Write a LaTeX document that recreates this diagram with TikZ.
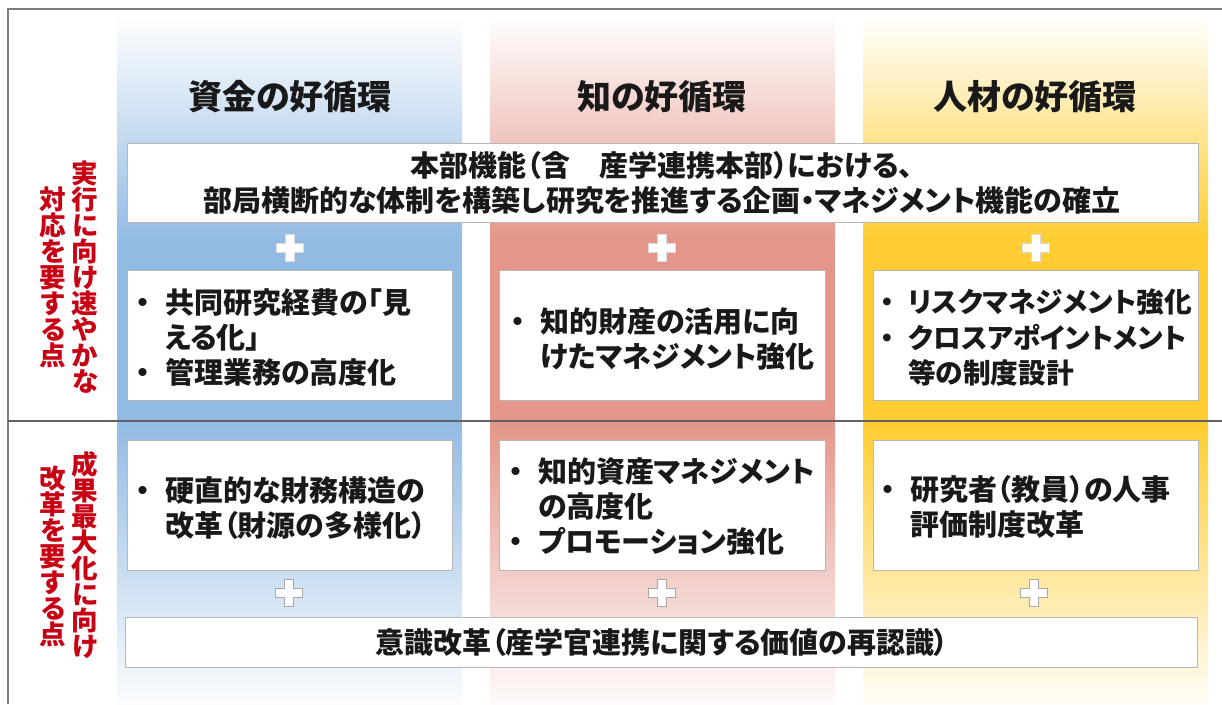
\documentclass[tikz,border=0pt]{standalone}
\usepackage{fontspec}
\setmainfont{Noto Sans CJK JP}[RawFeature={+palt}]
\definecolor{cblue}{RGB}{146,187,228}
\definecolor{cpink}{RGB}{228,150,138}
\definecolor{cyel}{RGB}{255,205,50}
\definecolor{cred}{RGB}{200,0,20}
\definecolor{ctext}{RGB}{25,25,25}
\definecolor{cframe}{RGB}{125,125,125}
\newcommand\bul{\llap{\makebox[1em][c]{・}\hspace{0.26em}}}
\begin{document}
\begin{tikzpicture}[x=1pt,y=-1pt,
  box/.style={draw=black!28, fill=white, line width=1.2pt, inner sep=0pt, anchor=north west},
  hdr/.style={font=\fontsize{34}{40}\selectfont\bfseries, text=ctext},
  ttxt/.style={font=\fontsize{29}{35}\selectfont\bfseries, text=ctext, align=center, inner sep=0pt},
  btxt/.style={font=\fontsize{29}{35}\selectfont\bfseries, text=ctext, align=left, inner sep=0pt, anchor=west},
  vlab/.style={font=\fontsize{26.5}{26}\selectfont\bfseries, text=cred, align=center, inner sep=0pt},
  plusup/.style={fill=white, draw=white!85!black, line width=0.6pt},
  pluslow/.style={fill=white, draw=black!35, line width=1pt},
  plussign/.pic={\path[pic actions] (-4.7,-13.5)--(4.7,-13.5)--(4.7,-4.7)--(13.5,-4.7)--(13.5,4.7)--(4.7,4.7)--(4.7,13.5)--(-4.7,13.5)--(-4.7,4.7)--(-13.5,4.7)--(-13.5,-4.7)--(-4.7,-4.7)--cycle;}
]
\useasboundingbox (0,0) rectangle (1222,704);
\fill[white] (0,0) rectangle (1222,704);

% columns
\foreach \xa/\col in {117/cblue, 490/cpink, 863/cyel}{
  \shade[top color=white, bottom color=\col] (\xa,15) rectangle ++(345,226);
  \fill[\col] (\xa,240) rectangle ++(345,181);
  \shade[top color=\col, middle color=\col!55, bottom color=white!96!\col] (\xa,421) rectangle ++(345,283);
}

% frame and divider
\draw[cframe, line width=2pt] (8,704) -- (8,9) -- (1222,9);
\draw[black!62, line width=1.5pt] (8,421) -- (1222,421);

% headers
\node[hdr] (h1) at (290,97) {資金の好循環};
\node[hdr] (h2) at (662,97) {知の好循環};
\node[hdr] (h3) at (1035,97) {人材の好循環};

% top wide box
\node[box, minimum width=1071pt, minimum height=79pt] (topbox) at (127,143) {};
\node[ttxt] (toptext) at (662,183) {本部機能（含　産学連携本部）における、\\部局横断的な体制を構築し研究を推進する企画・マネジメント機能の確立};

% plus signs upper
\pic[plusup] (p1) at (290,248) {plussign};
\pic[plusup] (p2) at (662,248) {plussign};
\pic[plusup] (p3) at (1036,248) {plussign};

% row 1 boxes
\node[box, minimum width=325pt, minimum height=130pt] (b11) at (127,270) {};
\node[box, minimum width=326pt, minimum height=130pt] (b12) at (499,270) {};
\node[box, minimum width=325pt, minimum height=130pt] (b13) at (873,270) {};
\node[btxt] (t11) at (165,338) {\bul 共同研究経費の「見\\える化」\\\bul 管理業務の高度化};
\node[btxt] (t12) at (540,339) {\bul 知的財産の活用に向\\けたマネジメント強化};
\node[btxt, font=\fontsize{27.7}{35.5}\selectfont\bfseries] (t13) at (908,338) {\bul リスクマネジメント強化\\\bul クロスアポイントメント\\等の制度設計};

% row 2 boxes
\node[box, minimum width=325pt, minimum height=130pt] (b21) at (127,440) {};
\node[box, minimum width=326pt, minimum height=130pt] (b22) at (499,440) {};
\node[box, minimum width=325pt, minimum height=130pt] (b23) at (873,440) {};
\node[btxt] (t21) at (165,508) {\bul 硬直的な財務構造の\\改革（財源の多様化）};
\node[btxt] (t22) at (538,507) {\bul 知的資産マネジメント\\の高度化\\\bul プロモーション強化};
\node[btxt] (t23) at (910,507) {\bul 研究者（教員）の人事\\評価制度改革};

% plus signs lower
\pic[pluslow] (p4) at (289,593) {plussign};
\pic[pluslow] (p5) at (662,593) {plussign};
\pic[pluslow] (p6) at (1034,593) {plussign};

% bottom wide box
\node[box, minimum width=1072pt, minimum height=50pt] (botbox) at (125,617) {};
\node[ttxt] (bottext) at (662,642) {意識改革（産学官連携に関する価値の再認識）};

% left vertical labels
\node[vlab] (v1r) at (85,277) {実\\行\\に\\向\\け\\速\\や\\か\\な};
\node[vlab] (v1l) at (53,277) {対\\応\\を\\要\\す\\る\\点};
\node[vlab] (v2r) at (85,555) {成\\果\\最\\大\\化\\に\\向\\け};
\node[vlab] (v2l) at (53,556) {改\\革\\を\\要\\す\\る\\点};
\end{tikzpicture}
\end{document}
